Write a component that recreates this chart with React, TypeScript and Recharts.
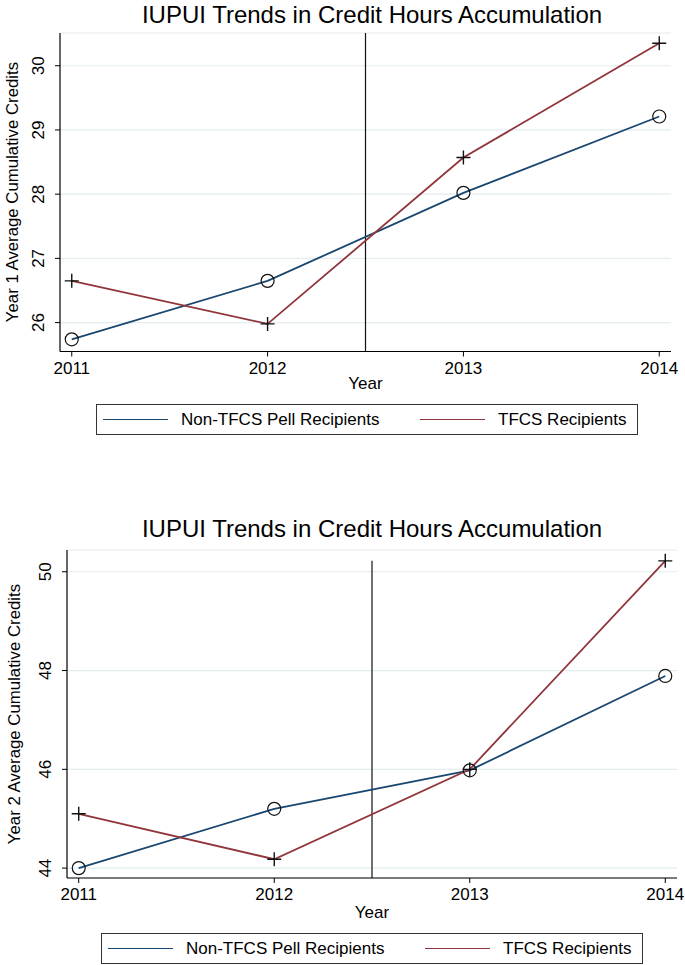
import { LineChart, Line, XAxis, YAxis, CartesianGrid, ReferenceLine } from "recharts";

// values
const years = [2011, 2012, 2013, 2014];
const year1NonTfcs = [25.74, 26.65, 28.02, 29.21];
const year1Tfcs = [26.65, 25.98, 28.57, 30.35];
const year2NonTfcs = [44.0, 45.2, 45.98, 47.89];
const year2Tfcs = [45.1, 44.18, 46.0, 50.22];
const year1Ticks = [26, 27, 28, 29, 30];
const year2Ticks = [44, 46, 48, 50];
const policyYear = 2012.5;

const TITLE = "IUPUI Trends in Credit Hours Accumulation";
const BLUE = "#1a476f";
const RED = "#90353b";
const GRID = "#e3ecef";
const FONT = '"Liberation Sans", Arial, Helvetica, sans-serif';

const CircleDot = (props: any) => {
  const { cx, cy, index } = props;
  return <circle key={`c-${index}`} cx={cx} cy={cy} r={6.5} fill="none" stroke="#111" strokeWidth={1.2} />;
};

const PlusDot = (props: any) => {
  const { cx, cy, index } = props;
  return (
    <path
      key={`p-${index}`}
      d={`M${cx - 7},${cy}H${cx + 7}M${cx},${cy - 7}V${cy + 7}`}
      stroke="#111"
      strokeWidth={1.4}
      fill="none"
    />
  );
};

const RotatedTick = (props: any) => {
  const { x, y, payload } = props;
  const cx = x - 14;
  return (
    <text
      x={cx}
      y={y}
      transform={`rotate(-90 ${cx} ${y})`}
      textAnchor="middle"
      dominantBaseline="central"
      fontSize={17}
      fill="#000"
      fontFamily={FONT}
    >
      {payload.value}
    </text>
  );
};

function Text({ x, y, size, rotate, children }: any) {
  return (
    <div
      style={{
        position: "absolute",
        left: x,
        top: y,
        transform: `translate(-50%, -50%)${rotate ? " rotate(-90deg)" : ""}`,
        fontSize: size,
        fontFamily: FONT,
        color: "#000",
        whiteSpace: "nowrap",
        lineHeight: 1,
      }}
    >
      {children}
    </div>
  );
}

function Legend({ left, top }: { left: number; top: number }) {
  const item = (x: number, color: string, label: string, textX: number) => (
    <>
      <div style={{ position: "absolute", left: x, top: 14, width: 65, height: 0, borderTop: `1.6px solid ${color}` }} />
      <div style={{ position: "absolute", left: textX, top: 6, fontSize: 17, fontFamily: FONT, lineHeight: 1, whiteSpace: "nowrap" }}>
        {label}
      </div>
    </>
  );
  return (
    <div
      style={{
        position: "absolute",
        left,
        top,
        width: 540,
        height: 29,
        border: "1px solid #333",
        background: "#fff",
      }}
    >
      {item(6, BLUE, "Non-TFCS Pell Recipients", 84)}
      {item(323, RED, "TFCS Recipients", 401)}
    </div>
  );
}

function Panel({ top, yLabel, nonTfcs, tfcs, yDomain, yTicks, refTop, margin, yearY, legendLeft, legendTop, yLabelX }: any) {
  const data = years.map((year, i) => ({ year, nonTfcs: nonTfcs[i], tfcs: tfcs[i] }));
  const plotTop = margin.top;
  const plotBottom = 400 - margin.bottom - 30;
  const plotLeft = margin.left + 40;
  const plotRight = 685 - margin.right;
  return (
    <div style={{ position: "absolute", left: 0, top, width: 685, height: 450 }}>
      <Text x={372} y={15} size={24}>{TITLE}</Text>
      <LineChart width={685} height={400} data={data} margin={margin}>
        <CartesianGrid vertical={false} stroke={GRID} strokeWidth={1.2} />
        <XAxis
          dataKey="year"
          type="number"
          domain={[2010.94, 2014.06]}
          ticks={years}
          interval={0}
          allowDataOverflow
          height={30}
          tickSize={5}
          tickMargin={5}
          axisLine={{ stroke: "#000", strokeWidth: 1.2 }}
          tickLine={{ stroke: "#000" }}
          tick={{ fontSize: 17, fill: "#000", fontFamily: FONT }}
        />
        <YAxis
          type="number"
          domain={yDomain}
          ticks={yTicks}
          interval={0}
          allowDataOverflow
          width={40}
          tickSize={5}
          axisLine={{ stroke: "#000", strokeWidth: 1.2 }}
          tickLine={{ stroke: "#000" }}
          tick={RotatedTick}
        />
        <ReferenceLine
          segment={[
            { x: policyYear, y: yDomain[0] },
            { x: policyYear, y: refTop },
          ]}
          stroke="#111"
          strokeWidth={1.2}
        />
        <Line
          type="linear"
          dataKey="nonTfcs"
          stroke={BLUE}
          strokeWidth={1.8}
          dot={CircleDot}
          activeDot={false}
          isAnimationActive={false}
        />
        <Line
          type="linear"
          dataKey="tfcs"
          stroke={RED}
          strokeWidth={1.8}
          dot={PlusDot}
          activeDot={false}
          isAnimationActive={false}
        />
      </LineChart>
      <Text x={(plotLeft + plotRight) / 2} y={yearY} size={17}>Year</Text>
      <Text x={yLabelX} y={(plotTop + plotBottom) / 2} size={16.8} rotate>{yLabel}</Text>
      <Legend left={legendLeft} top={legendTop} />
    </div>
  );
}

export default function App() {
  return (
    <div style={{ position: "absolute", left: 0, top: 0, width: 685, height: 965, background: "#fff", overflow: "hidden" }}>
      <Panel
        top={0}
        yLabel="Year 1 Average Cumulative Credits"
        nonTfcs={year1NonTfcs}
        tfcs={year1Tfcs}
        yDomain={[25.55, 30.51]}
        yTicks={year1Ticks}
        refTop={30.51}
        margin={{ top: 33, right: 14, left: 20, bottom: 18.5 }}
        yearY={383}
        legendLeft={96}
        legendTop={404}
        yLabelX={13}
      />
      <Panel
        top={514}
        yLabel="Year 2 Average Cumulative Credits"
        nonTfcs={year2NonTfcs}
        tfcs={year2Tfcs}
        yDomain={[43.8, 50.44]}
        yTicks={year2Ticks}
        refTop={50.22}
        margin={{ top: 36, right: 8, left: 27, bottom: 6 }}
        yearY={398}
        legendLeft={101}
        legendTop={419}
        yLabelX={15}
      />
    </div>
  );
}
